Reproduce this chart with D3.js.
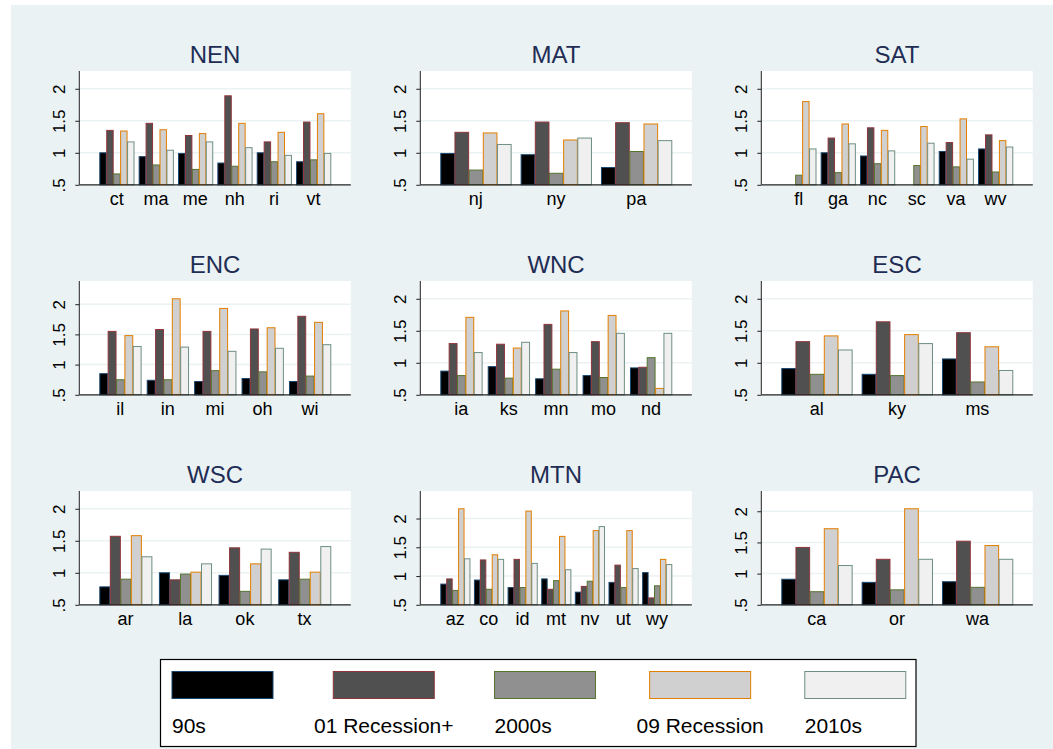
<!DOCTYPE html>
<html>
<head>
<meta charset="utf-8">
<script src="https://cdn.jsdelivr.net/npm/d3@7"></script>
<style>
  body { margin: 0; background: #ffffff; }
  text { font-family: "Liberation Sans", Arial, Helvetica, sans-serif; }
</style>
</head>
<body>
<div id="chart"></div>
<script>
// Data: one entry per census division, states in display order
const divisions = ["NEN", "MAT", "SAT", "ENC", "WNC", "ESC", "WSC", "MTN", "PAC"];
const states = [
  ["ct", "ma", "me", "nh", "ri", "vt"],
  ["nj", "ny", "pa"],
  ["fl", "ga", "nc", "sc", "va", "wv"],
  ["il", "in", "mi", "oh", "wi"],
  ["ia", "ks", "mn", "mo", "nd"],
  ["al", "ky", "ms"],
  ["ar", "la", "ok", "tx"],
  ["az", "co", "id", "mt", "nv", "ut", "wy"],
  ["ca", "or", "wa"]
];
const seriesNames = ["90s", "01 Recession+", "2000s", "09 Recession", "2010s"];

const v90s = [
  [1.00, 0.94, 0.99, 0.84, 1.00, 0.86],
  [0.99, 0.97, 0.77],
  [null, 1.00, 0.95, null, 1.02, 1.06],
  [0.85, 0.74, 0.72, 0.77, 0.72],
  [0.87, 0.94, 0.75, 0.80, 0.92],
  [0.91, 0.82, 1.06],
  [0.78, 1.00, 0.96, 0.89],
  [0.86, 0.93, 0.80, 0.95, 0.72, 0.89, 1.06],
  [0.91, 0.86, 0.87]
];
const v01 = [
  [1.35, 1.46, 1.27, 1.89, 1.17, 1.48],
  [1.32, 1.48, 1.47],
  [null, 1.23, 1.39, null, 1.16, 1.28],
  [1.55, 1.58, 1.55, 1.59, 1.80],
  [1.30, 1.29, 1.60, 1.33, 0.93],
  [1.33, 1.64, 1.47],
  [1.57, 0.89, 1.39, 1.32],
  [0.95, 1.28, 1.29, 0.77, 0.82, 1.19, 0.62],
  [1.42, 1.23, 1.52]
];
const v2000s = [
  [0.67, 0.81, 0.74, 0.79, 0.86, 0.89],
  [0.73, 0.68, 1.02],
  [0.65, 0.69, 0.83, 0.80, 0.78, 0.70],
  [0.75, 0.75, 0.90, 0.88, 0.81],
  [0.80, 0.76, 0.90, 0.77, 1.08],
  [0.82, 0.80, 0.70],
  [0.90, 0.98, 0.71, 0.90],
  [0.75, 0.77, 0.80, 0.92, 0.91, 0.80, 0.83],
  [0.71, 0.74, 0.78]
];
const v09 = [
  [1.34, 1.36, 1.30, 1.46, 1.32, 1.61],
  [1.31, 1.20, 1.45],
  [1.80, 1.45, 1.35, 1.41, 1.53, 1.19],
  [1.48, 2.09, 1.93, 1.61, 1.70],
  [1.71, 1.23, 1.81, 1.74, 0.60],
  [1.42, 1.44, 1.25],
  [1.58, 1.01, 1.14, 1.01],
  [2.17, 1.37, 2.13, 1.69, 1.79, 1.79, 1.29],
  [1.72, 2.04, 1.45]
];
const v2010s = [
  [1.17, 1.04, 1.17, 1.08, 0.96, 0.99],
  [1.13, 1.23, 1.19],
  [1.06, 1.14, 1.03, 1.15, 0.90, 1.09],
  [1.30, 1.29, 1.22, 1.27, 1.33],
  [1.16, 1.32, 1.16, 1.46, 1.46],
  [1.20, 1.30, 0.88],
  [1.25, 1.14, 1.37, 1.41],
  [1.30, 1.29, 1.22, 1.11, 1.86, 1.13, 1.20],
  [1.13, 1.23, 1.23]
];
const yTicks = [0.5, 1, 1.5, 2];
const yTickLabels = [".5", "1", "1.5", "2"];

const allSeries = [v90s, v01, v2000s, v09, v2010s];

// Stata s2color outlines with gray fills
const fills = ["#000000", "#505050", "#909090", "#d0d0d0", "#f0f0f0"];
const strokes = ["#1a476f", "#90353b", "#55752f", "#e37e00", "#6e8e84"];

// Layout
const W = 1053, H = 749;
const plotW = 271.5, plotH = 113.8;
const col0 = 79.3, colStep = 341;
const row0 = 71, rowStep = 210;

const svg = d3.select("#chart")
  .append("svg")
  .attr("width", W)
  .attr("height", H);

// graph region background
svg.append("rect")
  .attr("x", 11)
  .attr("y", 5)
  .attr("width", W - 11)
  .attr("height", H - 5)
  .attr("fill", "#eaf2f3");

divisions.forEach(function (div, i) {
  const px = col0 + (i % 3) * colStep;
  const py = row0 + Math.floor(i / 3) * rowStep;
  const g = svg.append("g").attr("transform", "translate(" + px + "," + py + ")");

  const rows = states[i].map(function (s, j) {
    return { state: s, values: allSeries.map(function (a) { return a[i][j]; }) };
  });

  const dataMax = d3.max(allSeries, function (a) { return d3.max(a[i]); });
  const hi = Math.max(2, dataMax);
  const yScale = d3.scaleLinear()
    .domain([0.5, hi + 0.185 * (hi - 0.5)])
    .range([plotH, 0]);

  const xScale = d3.scaleBand()
    .domain(states[i])
    .range([20, plotW - 20])
    .paddingInner(0.67 / 5.67)
    .paddingOuter(0);
  const xInner = d3.scaleBand()
    .domain(d3.range(seriesNames.length))
    .range([0, xScale.bandwidth()])
    .padding(0);

  // plot region
  g.append("rect")
    .attr("width", plotW)
    .attr("height", plotH)
    .attr("fill", "#ffffff");

  // gridlines
  g.selectAll(".grid")
    .data(yTicks.filter(function (t) { return t > 0.5; }))
    .enter()
    .append("line")
    .attr("class", "grid")
    .attr("x1", 0)
    .attr("x2", plotW)
    .attr("y1", function (d) { return yScale(d); })
    .attr("y2", function (d) { return yScale(d); })
    .attr("stroke", "#eaf2f3")
    .attr("stroke-width", 1.5);

  // bars
  const groups = g.selectAll(".state")
    .data(rows)
    .enter()
    .append("g")
    .attr("class", "state")
    .attr("transform", function (d) { return "translate(" + xScale(d.state) + ",0)"; });

  groups.selectAll("rect")
    .data(function (d) {
      return d.values.map(function (v, k) { return { k: k, v: v }; })
        .filter(function (b) { return b.v !== null; });
    })
    .enter()
    .append("rect")
    .attr("x", function (b) { return xInner(b.k) + 0.5; })
    .attr("y", function (b) { return yScale(b.v); })
    .attr("width", xInner.bandwidth() - 0.5)
    .attr("height", function (b) { return yScale(0.5) - yScale(b.v); })
    .attr("fill", function (b) { return fills[b.k]; })
    .attr("stroke", function (b) { return strokes[b.k]; })
    .attr("stroke-width", 1);

  // y axis
  const yAxis = d3.axisLeft(yScale)
    .tickValues(yTicks)
    .tickSize(4)
    .tickFormat(function (d, k) { return yTickLabels[k]; });
  const ya = g.append("g").attr("class", "y-axis").call(yAxis);
  ya.attr("font-family", null);
  ya.select(".domain")
    .attr("d", "M0," + plotH + "V0")
    .attr("stroke", "#222");
  ya.selectAll(".tick line").attr("stroke", "#222");
  ya.selectAll(".tick text")
    .attr("x", null)
    .attr("dy", null)
    .attr("transform", "translate(-14,0) rotate(-90)")
    .attr("text-anchor", "middle")
    .attr("fill", "#000")
    .style("font-size", "17px");

  // x axis (baseline + state labels)
  const xAxis = d3.axisBottom(xScale).tickSize(0).tickPadding(0);
  const xa = g.append("g")
    .attr("class", "x-axis")
    .attr("transform", "translate(0," + plotH + ")")
    .call(xAxis);
  xa.attr("font-family", null);
  xa.select(".domain")
    .attr("d", "M0,0H" + plotW)
    .attr("stroke", "#222")
    .attr("stroke-width", 1.2);
  xa.selectAll(".tick text")
    .attr("y", 20.5)
    .attr("dy", null)
    .attr("fill", "#000")
    .style("font-size", "18px");

  // title
  g.append("text")
    .attr("x", plotW / 2)
    .attr("y", -8.3)
    .attr("text-anchor", "middle")
    .attr("fill", "#1f2d55")
    .style("font-size", "24px")
    .text(div);
});

// Legend
const legend = svg.append("g").attr("class", "legend");
legend.append("rect")
  .attr("x", 160.5)
  .attr("y", 659.5)
  .attr("width", 755.5)
  .attr("height", 87)
  .attr("fill", "#ffffff")
  .attr("stroke", "#000")
  .attr("stroke-width", 1.2);

const keyW = 101, keyH = 27, colGap = 41;
let cursor = 172;
seriesNames.forEach(function (name, k) {
  const label = legend.append("text")
    .attr("y", 733.3)
    .attr("fill", "#000")
    .style("font-size", "21px")
    .text(name);
  const tw = label.node().getComputedTextLength();
  const colW = Math.max(keyW, tw);
  label.attr("x", cursor);
  legend.append("rect")
    .attr("x", cursor + (colW - keyW) / 2)
    .attr("y", 671.5)
    .attr("width", keyW)
    .attr("height", keyH)
    .attr("fill", fills[k])
    .attr("stroke", strokes[k])
    .attr("stroke-width", 1);
  cursor += colW + colGap;
});
</script>
</body>
</html>
